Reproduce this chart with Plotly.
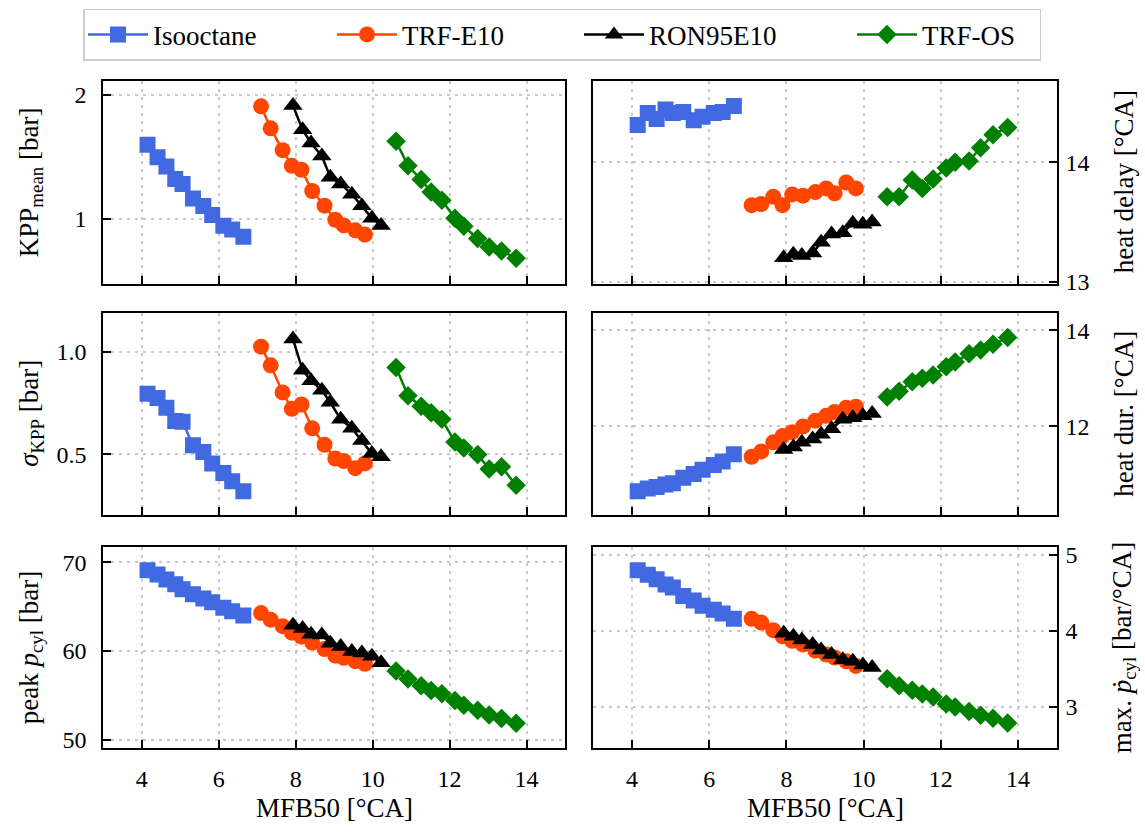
import plotly.graph_objects as go

# ---------------- data ----------------
series_names = ["Isooctane", "TRF-E10", "RON95E10", "TRF-OS"]

mfb50_iso = [4.15, 4.41, 4.64, 4.87, 5.06, 5.33, 5.60, 5.83, 6.12, 6.35, 6.64]
mfb50_e10 = [7.10, 7.35, 7.66, 7.90, 8.15, 8.43, 8.75, 9.03, 9.25, 9.55, 9.80]
mfb50_ron = [7.93, 8.18, 8.40, 8.68, 8.90, 9.17, 9.46, 9.72, 9.98, 10.22]
mfb50_os = [10.61, 10.92, 11.26, 11.52, 11.80, 12.14, 12.37, 12.73, 13.03, 13.35, 13.73]

kpp_mean_iso = [1.513, 1.411, 1.339, 1.249, 1.215, 1.120, 1.074, 1.022, 0.962, 0.942, 0.905]
kpp_mean_e10 = [1.873, 1.657, 1.467, 1.344, 1.315, 1.168, 1.076, 0.995, 0.964, 0.938, 0.916]
kpp_mean_ron = [1.883, 1.643, 1.527, 1.419, 1.261, 1.215, 1.147, 1.076, 1.004, 0.964]
kpp_mean_os = [1.541, 1.344, 1.245, 1.161, 1.110, 1.004, 0.959, 0.896, 0.855, 0.836, 0.803]

heat_delay_iso = [14.31, 14.41, 14.36, 14.44, 14.41, 14.42, 14.35, 14.38, 14.41, 14.42, 14.47]
heat_delay_e10 = [13.64, 13.65, 13.71, 13.64, 13.73, 13.72, 13.75, 13.78, 13.74, 13.83, 13.78]
heat_delay_ron = [13.20, 13.23, 13.22, 13.24, 13.33, 13.40, 13.41, 13.49, 13.48, 13.50]
heat_delay_os = [13.71, 13.71, 13.85, 13.78, 13.86, 13.95, 14.00, 14.01, 14.12, 14.23, 14.29]

sigma_kpp_iso = [0.795, 0.774, 0.726, 0.662, 0.658, 0.543, 0.511, 0.455, 0.408, 0.368, 0.320]
sigma_kpp_e10 = [1.024, 0.933, 0.801, 0.721, 0.742, 0.626, 0.546, 0.479, 0.467, 0.432, 0.455]
sigma_kpp_ron = [1.061, 0.909, 0.858, 0.811, 0.753, 0.670, 0.626, 0.567, 0.503, 0.487]
sigma_kpp_os = [0.922, 0.785, 0.734, 0.702, 0.670, 0.559, 0.530, 0.498, 0.428, 0.439, 0.349]

heat_dur_iso = [10.65, 10.71, 10.74, 10.79, 10.82, 10.93, 11.01, 11.10, 11.20, 11.27, 11.42]
heat_dur_e10 = [11.37, 11.48, 11.67, 11.80, 11.88, 12.00, 12.12, 12.22, 12.30, 12.39, 12.41]
heat_dur_ron = [11.52, 11.57, 11.67, 11.74, 11.84, 11.95, 12.15, 12.18, 12.22, 12.27]
heat_dur_os = [12.61, 12.73, 12.93, 13.00, 13.07, 13.24, 13.34, 13.51, 13.59, 13.71, 13.85]

peak_p_iso = [69.11, 68.63, 68.08, 67.53, 66.97, 66.42, 65.94, 65.50, 64.87, 64.50, 64.02]
peak_p_e10 = [64.28, 63.54, 62.80, 62.07, 61.62, 60.96, 60.22, 59.48, 59.23, 58.86, 58.56]
peak_p_ron = [62.92, 62.55, 61.88, 61.81, 60.89, 60.52, 59.96, 59.78, 59.41, 58.67]
peak_p_os = [57.75, 56.83, 56.09, 55.54, 55.17, 54.43, 53.87, 53.32, 52.77, 52.40, 51.85]

max_dp_iso = [4.80, 4.74, 4.68, 4.61, 4.57, 4.46, 4.40, 4.33, 4.28, 4.23, 4.16]
max_dp_e10 = [4.16, 4.11, 4.01, 3.93, 3.87, 3.82, 3.74, 3.69, 3.65, 3.60, 3.54]
max_dp_ron = [3.97, 3.93, 3.88, 3.82, 3.75, 3.69, 3.62, 3.60, 3.55, 3.52]
max_dp_os = [3.37, 3.28, 3.22, 3.17, 3.13, 3.04, 3.00, 2.94, 2.89, 2.85, 2.79]

x_ticks = [4, 6, 8, 10, 12, 14]

# ---------------- styling ----------------
colors = ["#4169E1", "#FF4500", "#000000", "#008000"]
symbols = ["square", "circle", "triangle-up", "diamond"]
sizes = [16, 16, 17, 15]
legend_widths = [174, 172, 198, 112]
xs = [mfb50_iso, mfb50_e10, mfb50_ron, mfb50_os]

panels = [
    # (index, y-data list, ylabel, yrange, tickvals, ticktext, type, side)
    (1, [kpp_mean_iso, kpp_mean_e10, kpp_mean_ron, kpp_mean_os],
     "KPP<sub>mean</sub> [bar]", [-0.1568, 0.3345], [1, 2], ["1", "2"], "log", "left"),
    (2, [heat_delay_iso, heat_delay_e10, heat_delay_ron, heat_delay_os],
     "heat delay [°CA]", [12.985, 14.68], [13, 14], ["13", "14"], "linear", "right"),
    (3, [sigma_kpp_iso, sigma_kpp_e10, sigma_kpp_ron, sigma_kpp_os],
     "<i>σ</i><sub>KPP</sub> [bar]", [0.205, 1.188], [0.5, 1.0], ["0.5", "1.0"], "linear", "left"),
    (4, [heat_dur_iso, heat_dur_e10, heat_dur_ron, heat_dur_os],
     "heat dur. [°CA]", [10.163, 14.36], [12, 14], ["12", "14"], "linear", "right"),
    (5, [peak_p_iso, peak_p_e10, peak_p_ron, peak_p_os],
     "peak <i>p</i><sub>cyl</sub> [bar]", [49.08, 71.77], [50, 60, 70], ["50", "60", "70"], "linear", "left"),
    (6, [max_dp_iso, max_dp_e10, max_dp_ron, max_dp_os],
     "max. <i>ṗ</i><sub>cyl</sub> [bar/°CA]", [2.462, 5.108], [3, 4, 5], ["3", "4", "5"], "linear", "right"),
]

W, H = 1145, 837
col_px = [(103.3, 565.0), (593.3, 1056.7)]
row_px = [(78.3, 285.0), (315.0, 520.7), (553.3, 758.3)]

serif = "Liberation Serif, Times New Roman, serif"
grid_col = "#c9c9c9"

fig = go.Figure()
layout = dict(
    width=W, height=H,
    margin=dict(l=0, r=0, t=0, b=0),
    paper_bgcolor="white", plot_bgcolor="white",
    font=dict(family=serif, size=24, color="black"),
    showlegend=True,
    legend=dict(
        orientation="h", x=83 / W, xanchor="left", y=1 - 5 / H, yanchor="top",
        bgcolor="white", bordercolor="#cccccc", borderwidth=1.5,
        font=dict(family=serif, size=27, color="black"),
        itemwidth=60, tracegroupgap=0,
    ),
)
annotations = []

for idx, ydata, ylabel, yrange, tv, tt, ytype, side in panels:
    r = (idx - 1) // 2
    c = (idx - 1) % 2
    x0, x1 = col_px[c]
    y0, y1 = row_px[r]
    xd = [x0 / W, x1 / W]
    yd = [1 - y1 / H, 1 - y0 / H]
    xa = "x" if idx == 1 else f"x{idx}"
    ya = "y" if idx == 1 else f"y{idx}"
    for k in range(4):
        fig.add_trace(go.Scatter(
            x=xs[k], y=ydata[k], mode="lines+markers",
            name=series_names[k], legendgroup=series_names[k],
            showlegend=(idx == 1), legendwidth=legend_widths[k],
            line=dict(color=colors[k], width=2.5),
            marker=dict(symbol=symbols[k], size=sizes[k], color=colors[k],
                        line=dict(width=0)),
            xaxis=xa, yaxis=ya,
        ))
    xkey = "xaxis" if idx == 1 else f"xaxis{idx}"
    ykey = "yaxis" if idx == 1 else f"yaxis{idx}"
    layout[xkey] = dict(
        domain=xd, anchor=ya, range=[3, 15], tickvals=x_ticks,
        ticktext=[str(v) for v in x_ticks], showticklabels=(r == 2),
        ticks="inside", ticklen=8, tickwidth=2, tickcolor="black",
        showline=True, linecolor="black", linewidth=2, mirror=True,
        showgrid=True, gridcolor=grid_col, gridwidth=2, griddash="3px,5px",
        zeroline=False, ticklabelstandoff=8,
        tickfont=dict(family=serif, size=24),
    )
    layout[ykey] = dict(
        domain=yd, anchor=xa, type=ytype, range=yrange, tickvals=tv, ticktext=tt,
        side=side,
        ticks="inside", ticklen=8, tickwidth=2, tickcolor="black",
        showline=True, linecolor="black", linewidth=2, mirror=True,
        showgrid=True, gridcolor=grid_col, gridwidth=2, griddash="3px,5px",
        zeroline=False, ticklabelstandoff=(10 if side == "left" else 2),
        tickfont=dict(family=serif, size=24),
    )
    yc = 1 - (y0 + y1) / 2 / H
    xt = 31 / W if side == "left" else 1124 / W
    annotations.append(dict(text=ylabel, xref="paper", yref="paper",
                            x=xt, y=yc, xanchor="center", yanchor="middle",
                            textangle=-90, showarrow=False,
                            font=dict(family=serif, size=27)))
    if r == 2:
        annotations.append(dict(text="MFB50 [°CA]", xref="paper", yref="paper",
                                x=(x0 + x1) / 2 / W, y=1 - 820 / H,
                                xanchor="center", yanchor="middle", showarrow=False,
                                font=dict(family=serif, size=27)))

layout["annotations"] = annotations
fig.update_layout(**layout)
fig.write_html("out.html")
